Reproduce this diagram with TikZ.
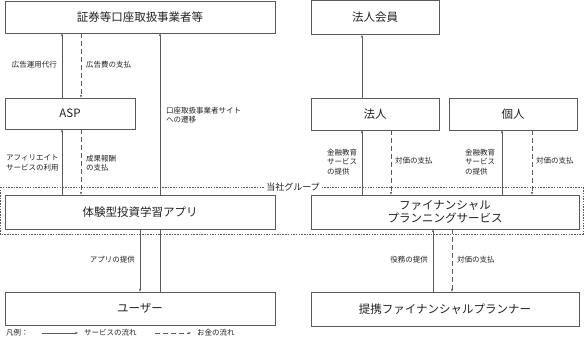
\documentclass[tikz,border=0pt]{standalone}
\usepackage{fontspec}
\setmainfont{Noto Sans CJK JP}
\usetikzlibrary{arrows.meta}
\definecolor{linegray}{HTML}{5A5A5A}
\definecolor{textgray}{HTML}{222222}

\begin{document}
\begin{tikzpicture}[x=1pt, y=-1pt, >={Stealth[length=3pt,width=2.4pt]},
  box/.style={draw=linegray, fill=white, line width=0.8pt, text=textgray,
    font=\fontsize{11.5}{13}\selectfont, align=center, inner sep=0pt},
  lbl/.style={text=textgray, font=\fontsize{7.5}{9.5}\selectfont, inner sep=1pt},
  flow/.style={draw=linegray, line width=0.7pt, ->},
  money/.style={draw=linegray, line width=0.7pt, dash pattern=on 5pt off 3pt, ->}]
  \useasboundingbox (0,0) rectangle (584,342);
  % group frame
  \draw[linegray, line width=0.6pt, dash pattern=on 1.5pt off 1.2pt] (0,187) rectangle (583,234);
  \node[lbl, fill=white, font=\fontsize{9}{10}\selectfont] (grp) at (293,187) {当社グループ};
  % boxes
  \node[box, minimum width=270, minimum height=32] (broker) at (140,17) {証券等口座取扱事業者等};
  \node[box, minimum width=130, minimum height=31] (asp) at (70,113.5) {ASP};
  \node[box, minimum width=270, minimum height=34] (app) at (140,212) {体験型投資学習アプリ};
  \node[box, minimum width=270, minimum height=33] (user) at (140,308.5) {ユーザー};
  \node[box, minimum width=128, minimum height=34] (member) at (375,17.5) {法人会員};
  \node[box, minimum width=128, minimum height=32] (corp) at (375,114) {法人};
  \node[box, minimum width=128, minimum height=32] (indiv) at (513,114) {個人};
  \node[box, minimum width=268, minimum height=34, font=\fontsize{11.5}{12.5}\selectfont] (fps) at (445,212) {ファイナンシャル\\プランニングサービス};
  \node[box, minimum width=268, minimum height=34] (planner) at (445,309) {提携ファイナンシャルプランナー};
  % column positions
  \coordinate (c1) at (62,0);
  \coordinate (c2) at (81,0);
  \coordinate (c3) at (140,0);
  \coordinate (c4) at (160,0);
  \coordinate (c5) at (362,0);
  \coordinate (c6) at (391,0);
  \coordinate (c7) at (502,0);
  \coordinate (c8) at (532,0);
  \coordinate (c9) at (433,0);
  \coordinate (c10) at (452,0);
  % left side
  \draw[flow] (asp.north -| c1) -- (broker.south -| c1);
  \draw[money] (broker.south -| c2) -- (asp.north -| c2);
  \draw[flow] (app.north -| c1) -- (asp.south -| c1);
  \draw[money] (asp.south -| c2) -- (app.north -| c2);
  \draw[flow] (app.north -| c4) -- (broker.south -| c4);
  \draw[linegray, line width=0.7pt] (user.north -| c4) -- (app.south -| c4);
  \draw[flow] (app.south -| c3) -- (user.north -| c3);
  \node[lbl, anchor=east] (l1) at (58,65) {広告運用代行};
  \node[lbl, anchor=west] (l2) at (85,65) {広告費の支払};
  \node[lbl, anchor=west, align=left] (l3) at (165,115) {口座取扱事業者サイト\\への遷移};
  \node[lbl, anchor=west, align=left] (l4) at (5,163) {アフィリエイト\\サービスの利用};
  \node[lbl, anchor=west, align=left] (l5) at (85,163) {成果報酬\\の支払};
  \node[lbl, anchor=east] (l6) at (136,260) {アプリの提供};
  % right side
  \draw[flow] (corp.north -| c5) -- (member.south -| c5);
  \draw[flow] (fps.north -| c5) -- (corp.south -| c5);
  \draw[money] (corp.south -| c6) -- (fps.north -| c6);
  \draw[flow] (fps.north -| c7) -- (indiv.south -| c7);
  \draw[money] (indiv.south -| c8) -- (fps.north -| c8);
  \draw[flow] (planner.north -| c9) -- (fps.south -| c9);
  \draw[money] (fps.south -| c10) -- (planner.north -| c10);
  \node[lbl, anchor=west, align=left] (l7) at (326,162) {金融教育\\サービス\\の提供};
  \node[lbl, anchor=west] (l8) at (394,161) {対価の支払};
  \node[lbl, anchor=west, align=left] (l9) at (464,162) {金融教育\\サービス\\の提供};
  \node[lbl, anchor=west] (l10) at (535,161) {対価の支払};
  \node[lbl, anchor=east] (l11) at (429,260) {役務の提供};
  \node[lbl, anchor=west] (l12) at (456,260) {対価の支払};
  % legend
  \node[lbl, anchor=west] (leg) at (5,333) {凡例：};
  \coordinate (s1) at (42,333);
  \coordinate (s2) at (78,333);
  \coordinate (m1) at (155,333);
  \coordinate (m2) at (191,333);
  \draw[flow] (s1) -- (s2);
  \node[lbl, anchor=west] (legs) at (83,333) {サービスの流れ};
  \draw[money] (m1) -- (m2);
  \node[lbl, anchor=west] (legm) at (196,333) {お金の流れ};
\end{tikzpicture}
\end{document}
